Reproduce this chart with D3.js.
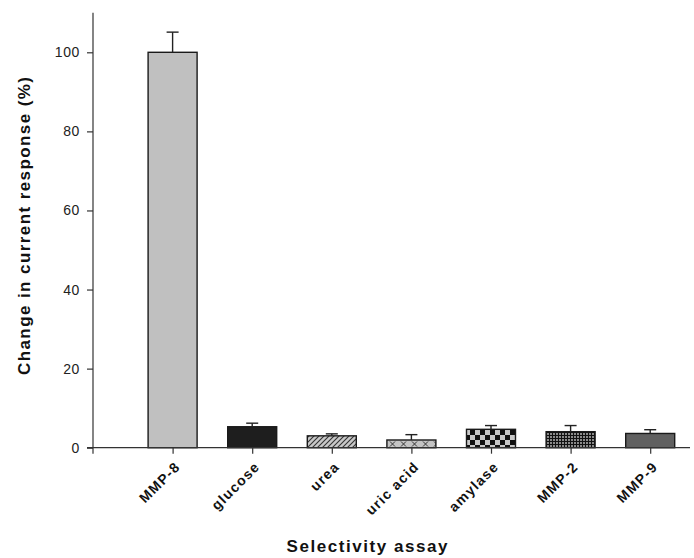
<!DOCTYPE html>
<html>
<head>
<meta charset="utf-8">
<script src="https://cdn.jsdelivr.net/npm/d3@7"></script>
<style>
  html, body { margin: 0; padding: 0; background: #fff; }
  svg { display: block; font-family: "Liberation Sans", Arial, sans-serif; }
</style>
</head>
<body>
<svg id="chart" width="694" height="558"></svg>
<script>
// Selectivity assay data
const categories = ["MMP-8", "glucose", "urea", "uric acid", "amylase", "MMP-2", "MMP-9"];
const responses = [100, 5.3, 3.0, 1.95, 4.65, 4.05, 3.6];
const errors = [5.1, 0.9, 0.5, 1.35, 0.95, 1.55, 0.95];
const yTicks = [0, 20, 40, 60, 80, 100];
const fills = ["#c0c0c0", "#1e1e1e", "url(#hatch)", "url(#crosses)", "url(#checker)", "url(#grid)", "#606060"];

const svg = d3.select("#chart");
const y0 = 447.7;

const x = d3.scaleLinear().domain([0, 7.5]).range([93, 690]);
const y = d3.scaleLinear().domain([0, 110]).range([y0, y0 - 110 * 3.954]);
const barW = 49;

// Fill patterns
const defs = svg.append("defs");

const hatch = defs.append("pattern").attr("id", "hatch")
  .attr("patternUnits", "userSpaceOnUse").attr("width", 5).attr("height", 5);
hatch.append("rect").attr("width", 5).attr("height", 5).attr("fill", "#c8c8c8");
hatch.append("path").attr("d", "M-1,6 L6,-1 M-1,1 L1,-1 M4,6 L6,4")
  .attr("stroke", "#333").attr("stroke-width", 1.1);

const crosses = defs.append("pattern").attr("id", "crosses")
  .attr("patternUnits", "userSpaceOnUse").attr("width", 11).attr("height", 8).attr("x", 2);
crosses.append("rect").attr("width", 11).attr("height", 8).attr("fill", "#c4c4c4");
crosses.append("path").attr("d", "M3,1.5 L8,6.5 M8,1.5 L3,6.5")
  .attr("stroke", "#333").attr("stroke-width", 1);

const checker = defs.append("pattern").attr("id", "checker")
  .attr("patternUnits", "userSpaceOnUse").attr("width", 10).attr("height", 10);
checker.append("rect").attr("width", 10).attr("height", 10).attr("fill", "#c8c8c8");
checker.append("rect").attr("width", 5).attr("height", 5).attr("fill", "#111");
checker.append("rect").attr("x", 5).attr("y", 5).attr("width", 5).attr("height", 5).attr("fill", "#111");

const grid = defs.append("pattern").attr("id", "grid")
  .attr("patternUnits", "userSpaceOnUse").attr("width", 3).attr("height", 3);
grid.append("rect").attr("width", 3).attr("height", 3).attr("fill", "#8a8a8a");
grid.append("path").attr("d", "M0,0.5 H3 M0.5,0 V3").attr("stroke", "#111").attr("stroke-width", 1);

const data = categories.map((c, i) => ({ name: c, v: responses[i], e: errors[i], fill: fills[i], pos: i + 1 }));

// Bars
svg.append("g").selectAll("rect").data(data).join("rect")
  .attr("x", d => x(d.pos) - barW / 2)
  .attr("y", d => y(d.v))
  .attr("width", barW)
  .attr("height", d => y(0) - y(d.v))
  .attr("fill", d => d.fill)
  .attr("stroke", "#1a1a1a")
  .attr("stroke-width", 1.4);

// Upper error bars
const eb = svg.append("g").attr("stroke", "#222").attr("stroke-width", 1.4);
eb.selectAll("line.v").data(data).join("line").attr("class", "v")
  .attr("x1", d => x(d.pos)).attr("x2", d => x(d.pos))
  .attr("y1", d => y(d.v)).attr("y2", d => y(d.v + d.e));
eb.selectAll("line.c").data(data).join("line").attr("class", "c")
  .attr("x1", d => x(d.pos) - 6).attr("x2", d => x(d.pos) + 6)
  .attr("y1", d => y(d.v + d.e)).attr("y2", d => y(d.v + d.e));

// Y axis
const yAxis = svg.append("g").attr("transform", `translate(${x(0)},0)`)
  .call(d3.axisLeft(y).tickValues(yTicks).tickSize(6).tickPadding(7).tickSizeOuter(0));
yAxis.select(".domain").attr("stroke", "#333").attr("stroke-width", 1.2)
  .attr("d", `M0,${y(110)}V${y0 + 6}`);
yAxis.selectAll(".tick line").attr("stroke", "#333").attr("stroke-width", 1.2);
yAxis.selectAll(".tick text").attr("font-size", 14).attr("fill", "#222")
  .attr("letter-spacing", 0.6)
  .attr("font-family", "'Liberation Sans', Arial, sans-serif");

// X axis
const xAxis = svg.append("g").attr("transform", `translate(0,${y0})`)
  .call(d3.axisBottom(x).tickValues(d3.range(1, 8)).tickSize(6).tickSizeOuter(0)
    .tickFormat((d) => categories[d - 1]));
xAxis.select(".domain").attr("stroke", "#333").attr("stroke-width", 1.2)
  .attr("d", `M${x(0) - 6},0H${x(7.5)}`);
xAxis.selectAll(".tick line").attr("stroke", "#333").attr("stroke-width", 1.2);
xAxis.selectAll(".tick text")
  .attr("font-size", 14).attr("font-weight", "bold").attr("fill", "#111")
  .attr("letter-spacing", 1.2)
  .attr("font-family", "'Liberation Sans', Arial, sans-serif")
  .attr("text-anchor", "end")
  .attr("dy", null).attr("y", null)
  .attr("transform", "translate(8,20) rotate(-45)");

// Axis titles
svg.append("text")
  .attr("x", 367).attr("y", 552)
  .attr("text-anchor", "middle")
  .attr("font-size", 17).attr("font-weight", "bold").attr("fill", "#111")
  .attr("textLength", 161).attr("lengthAdjust", "spacing")
  .text("Selectivity assay");

svg.append("text")
  .attr("transform", "translate(30,226) rotate(-90)")
  .attr("text-anchor", "middle")
  .attr("font-size", 17).attr("font-weight", "bold").attr("fill", "#111")
  .attr("textLength", 298).attr("lengthAdjust", "spacing")
  .text("Change in current response (%)");
</script>
</body>
</html>
